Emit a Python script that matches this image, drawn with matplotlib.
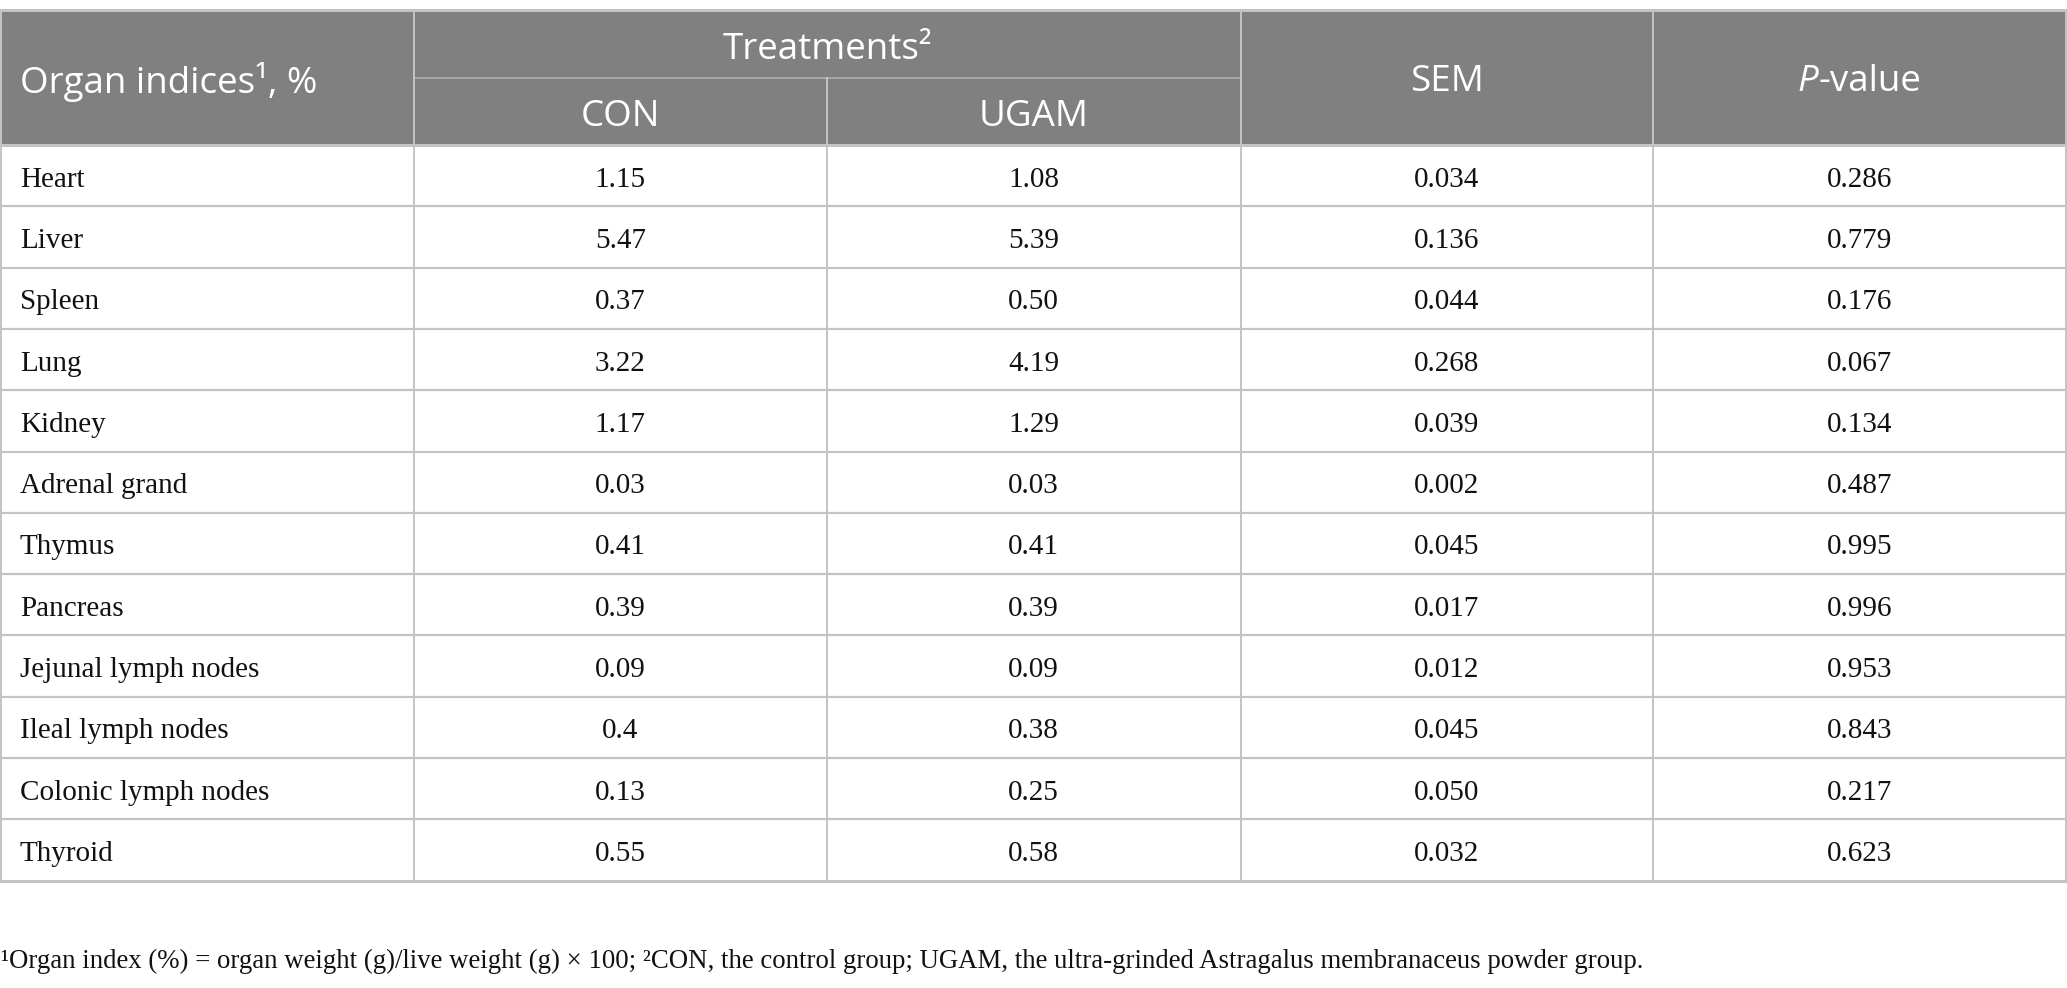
import matplotlib
matplotlib.use('Agg')
import matplotlib.pyplot as plt

# table contents
organs = ['Heart', 'Liver', 'Spleen', 'Lung', 'Kidney', 'Adrenal grand', 'Thymus',
          'Pancreas', 'Jejunal lymph nodes', 'Ileal lymph nodes', 'Colonic lymph nodes', 'Thyroid']
con = ['1.15', '5.47', '0.37', '3.22', '1.17', '0.03', '0.41', '0.39', '0.09', '0.4', '0.13', '0.55']
ugam = ['1.08', '5.39', '0.50', '4.19', '1.29', '0.03', '0.41', '0.39', '0.09', '0.38', '0.25', '0.58']
sem = ['0.034', '0.136', '0.044', '0.268', '0.039', '0.002', '0.045', '0.017', '0.012', '0.045', '0.050', '0.032']
pval = ['0.286', '0.779', '0.176', '0.067', '0.134', '0.487', '0.995', '0.996', '0.953', '0.843', '0.217', '0.623']
footnote = ('\u00b9Organ index (%) = organ weight (g)/live weight (g) \u00d7 100; '
            '\u00b2CON, the control group; UGAM, the ultra-grinded Astragalus membranaceus powder group.')

W, H = 2067, 988
fig = plt.figure(figsize=(W / 100, H / 100), dpi=100)
ax = fig.add_axes([0, 0, 1, 1])
ax.set_xlim(0, W)
ax.set_ylim(H, 0)
ax.axis('off')

cols = [1, 414, 826.5, 1240.5, 1653, 2066]
top, mid, hbot = 10.5, 78, 145
rowh = 61.3
bottom = hbot + rowh * len(organs)
hdr = '#808080'
line = '#c4c4c4'
hfont = 'Open Sans'
bfont = 'Liberation Serif'
hsize = 26.5
bsize = 21

# header background
ax.add_patch(plt.Rectangle((cols[0], top), cols[-1] - cols[0], hbot - top, color=hdr, zorder=0))

# grid lines
for y in [top, hbot, bottom]:
    ax.plot([cols[0], cols[-1]], [y, y], color=line, lw=2.2)
for i in range(1, len(organs)):
    y = hbot + rowh * i
    ax.plot([cols[0], cols[-1]], [y, y], color=line, lw=1.6)
ax.plot([cols[1], cols[3]], [mid, mid], color='#a8a8a8', lw=1.4)
for x in cols:
    if x == cols[2]:
        ax.plot([x, x], [mid, bottom], color=line, lw=1.4)
    else:
        ax.plot([x, x], [top, bottom], color=line, lw=1.4)

# header text
dy = 4
ax.text(20, (top + hbot) / 2 + dy, 'Organ indices\u00b9, %', color='white', fontsize=hsize,
        family=hfont, ha='left', va='center')
ax.text((cols[1] + cols[3]) / 2, (top + mid) / 2 + 2 + dy, 'Treatments\u00b2', color='white',
        fontsize=hsize, family=hfont, ha='center', va='center')
ax.text((cols[1] + cols[2]) / 2, (mid + hbot) / 2 + 2 + dy, 'CON', color='white', fontsize=hsize,
        family=hfont, ha='center', va='center')
ax.text((cols[2] + cols[3]) / 2, (mid + hbot) / 2 + 2 + dy, 'UGAM', color='white', fontsize=hsize,
        family=hfont, ha='center', va='center')
ax.text((cols[3] + cols[4]) / 2, (top + hbot) / 2 + dy, 'SEM', color='white', fontsize=hsize,
        family=hfont, ha='center', va='center')

# P-value with italic P
fig.canvas.draw()
r = fig.canvas.get_renderer()
tp = ax.text(0, 0, 'P', color='white', fontsize=hsize, family=hfont, style='italic',
             ha='left', va='center')
tv = ax.text(0, 0, '-value', color='white', fontsize=hsize, family=hfont, ha='left', va='center')
wp = tp.get_window_extent(r).width
wv = tv.get_window_extent(r).width
x0 = (cols[4] + cols[5]) / 2 - (wp + wv) / 2
yc = (top + hbot) / 2 + dy
tp.set_position((x0, yc))
tv.set_position((x0 + wp, yc))

# body
for i, org in enumerate(organs):
    yc = hbot + rowh * (i + 0.5) + 4
    ax.text(20, yc, org, fontsize=bsize, family=bfont, ha='left', va='center', color='#111111')
    for j, col in enumerate([con, ugam, sem, pval]):
        ax.text((cols[j + 1] + cols[j + 2]) / 2, yc, col[i], fontsize=bsize, family=bfont,
                ha='center', va='center', color='#111111')

ax.text(1, 961, footnote, fontsize=19.3, family=bfont, ha='left', va='center', color='#111111')

fig.savefig('out.png', dpi=100)
